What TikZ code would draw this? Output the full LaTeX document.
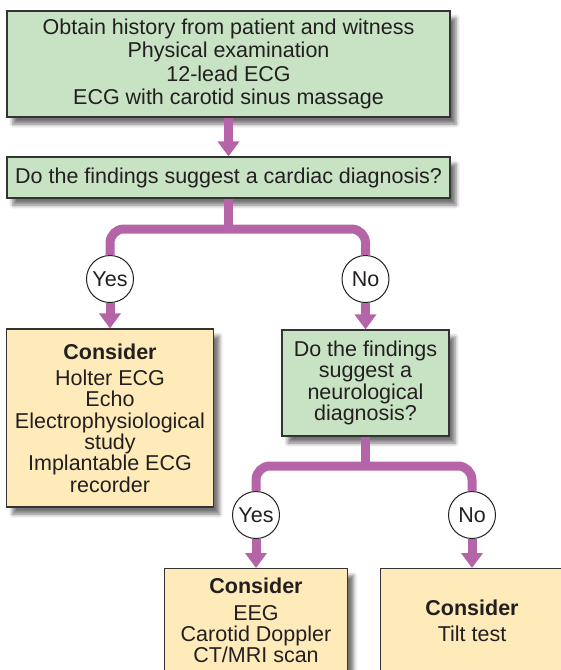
\documentclass[tikz,border=0pt]{standalone}
\usepackage{fontspec}
\setmainfont{Liberation Sans}
\usepackage{xcolor}
\usetikzlibrary{arrows.meta,shadows.blur}
\definecolor{ink}{HTML}{231F20}
\definecolor{frame}{HTML}{333333}
\definecolor{sage}{HTML}{C7E3C3}
\definecolor{cream}{HTML}{FEEBB9}
\definecolor{orchid}{HTML}{B565A7}
\tikzset{
  every picture/.style={text=ink},
  basebox/.style={draw=frame, line width=1.2pt, align=center, inner sep=3pt,
    font=\fontsize{21.5}{21.3}\selectfont,
    blur shadow={shadow xshift=6pt, shadow yshift=-7pt, shadow blur radius=4pt, shadow opacity=55}},
  qbox/.style={basebox, fill=sage},
  actbox/.style={basebox, fill=cream},
  answer/.style={circle, draw=ink, line width=1pt, fill=white, minimum size=47pt, inner sep=0pt,
    font=\fontsize{21.5}{21.3}\selectfont},
  flow/.style={draw=orchid, line width=9pt, -{Triangle[width=21pt,length=15pt]}},
  fork/.style={draw=orchid, line width=9pt, rounded corners=14pt},
}
\begin{document}
\begin{tikzpicture}[x=1pt, y=-1pt]
\useasboundingbox (0,0) rectangle (561,670);
\clip (0,0) rectangle (561,670);
% boxes
\node[qbox, minimum width=443pt, minimum height=106pt, font=\fontsize{21.5}{23.5}\selectfont] (hist) at (228.5,64)
  {Obtain history from patient and witness\\Physical examination\\12-lead ECG\\ECG with carotid sinus massage};
\node[qbox, minimum width=443pt, minimum height=41pt] (cardiac) at (228.5,177.5)
  {Do the findings suggest a cardiac diagnosis?};
\node[actbox, minimum width=206.5pt, minimum height=178pt] (cardtests) at (110,418)
  {\textbf{Consider}\\[5pt]Holter ECG\\Echo\\Electrophysiological\\study\\Implantable ECG\\recorder};
\node[qbox, minimum width=167pt, minimum height=106pt] (neuro) at (365.5,383)
  {Do the findings\\suggest a\\neurological\\diagnosis?};
\node[actbox, anchor=north, minimum width=183pt, minimum height=104pt] (neurotests) at (256,568)
  {\textbf{Consider}\\[5pt]EEG\\Carotid Doppler\\CT/MRI scan};
\node[actbox, anchor=north, minimum width=183pt, minimum height=104pt] (tilt) at (472,568)
  {\textbf{Consider}\\[5pt]Tilt test};
% answers
\coordinate (cut1) at (228.5,229);
\coordinate (cut2) at (365.5,466);
\node[answer] (yes1) at (110,279) {Yes};
\node[answer] (no1) at (365.5,279) {No};
\node[answer] (yes2) at (256,515) {Yes};
\node[answer] (no2) at (472,515) {No};
% connectors
\draw[flow] (hist) -- (cardiac);
\draw[fork] (cardiac) -- (cut1);
\draw[fork] (yes1.north) |- (cut1) -| (no1.north);
\draw[flow] (yes1) -- (cardtests);
\draw[flow] (no1) -- (neuro);
\draw[fork] (neuro) -- (cut2);
\draw[fork] (yes2.north) |- (cut2) -| (no2.north);
\draw[flow] (yes2) -- (neurotests);
\draw[flow] (no2) -- (tilt);
\end{tikzpicture}
\end{document}
